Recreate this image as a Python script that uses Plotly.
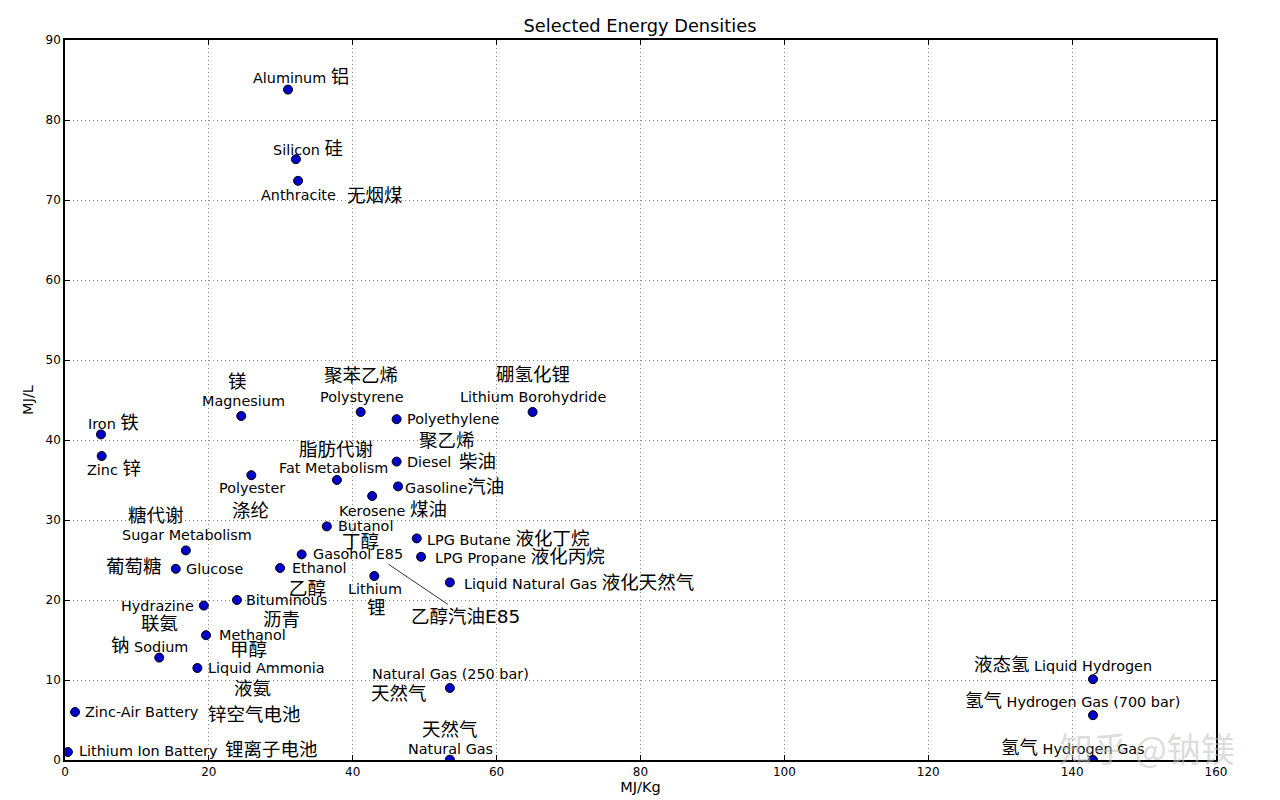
import plotly.graph_objects as go

# ---------------- data ----------------
names_en = [
    "Aluminum", "Silicon", "Anthracite", "Magnesium", "Polystyrene", "Polyethylene",
    "Lithium Borohydride", "Iron", "Zinc", "Fat Metabolism", "Diesel", "Gasoline",
    "Polyester", "Kerosene", "Butanol", "Sugar Metabolism", "Glucose", "Gasohol E85",
    "Ethanol", "Lithium", "LPG Butane", "LPG Propane", "Liquid Natural Gas", "Hydrazine",
    "Bituminous", "Methanol", "Sodium", "Liquid Ammonia", "Zinc-Air Battery",
    "Lithium Ion Battery", "Natural Gas (250 bar)", "Natural Gas", "Liquid Hydrogen",
    "Hydrogen Gas (700 bar)", "Hydrogen Gas",
]
names_zh = [
    "铝", "硅", "无烟煤", "镁", "聚苯乙烯", "聚乙烯",
    "硼氢化锂", "铁", "锌", "脂肪代谢", "柴油", "汽油",
    "涤纶", "煤油", "丁醇", "糖代谢", "葡萄糖", "乙醇汽油E85",
    "乙醇", "锂", "液化丁烷", "液化丙烷", "液化天然气", "联氨",
    "沥青", "甲醇", "钠", "液氨", "锌空气电池",
    "锂离子电池", "天然气", "天然气", "液态氢",
    "氢气", "氢气",
]
mj_kg = [
    31.0, 32.1, 32.4, 24.5, 41.1, 46.1,
    65.0, 5.0, 5.1, 37.8, 46.1, 46.3,
    25.9, 42.7, 36.4, 16.8, 15.4, 32.9,
    29.9, 43.0, 48.9, 49.5, 53.5, 19.3,
    23.9, 19.6, 13.1, 18.4, 1.4,
    0.4, 53.5, 53.5, 142.9,
    142.9, 142.9,
]
mj_l = [
    83.8, 75.1, 72.4, 43.0, 43.5, 42.6,
    43.5, 40.7, 38.0, 35.0, 37.3, 34.2,
    35.6, 33.0, 29.2, 26.2, 23.9, 25.7,
    24.0, 23.0, 27.7, 25.4, 22.2, 19.3,
    20.0, 15.6, 12.8, 11.5, 6.0,
    1.0, 9.0, 0.04, 10.1,
    5.6, 0.01,
]
x_ticks = [0, 20, 40, 60, 80, 100, 120, 140, 160]
y_ticks = [0, 10, 20, 30, 40, 50, 60, 70, 80, 90]

# ---------------- label layout (pixel offsets) ----------------
# kind: 'en', 'zh', 'en zh' (english then chinese), 'zh en', 'enzh' (no space)
# (index, kind, dx, dy_down, xanchor)
LAYOUT = [
    (0, "en zh", 12.5, -12.7, "center"),
    (1, "en zh", 12, -11, "center"),
    (2, "en", 0, 14, "center"), (2, "zh", 77, 15, "center"),
    (3, "en", 2, -15, "center"), (3, "zh", -4, -35, "center"),
    (4, "en", 1, -15, "center"), (4, "zh", 0, -37, "center"),
    (5, "en", 8, 0, "left"), (5, "zh", 50, 21, "center"),
    (6, "en", 0, -15, "center"), (6, "zh", 0, -38, "center"),
    (7, "en zh", 13, -12, "center"),
    (8, "en zh", 12, 12, "center"),
    (9, "en", -3, -12, "center"), (9, "zh", -1, -31, "center"),
    (10, "en", 8, 0, "left"), (10, "zh", 60, 0, "left"),
    (11, "enzh", 5, 0, "left"),
    (12, "en", 1, 13, "center"), (12, "zh", -1, 35, "center"),
    (13, "en zh", 21, 13, "center"),
    (14, "en", 9, 0, "left"), (14, "zh", 34, 15, "center"),
    (15, "en", 1, -15, "center"), (15, "zh", -30, -35, "center"),
    (16, "en", 8, 0, "left"), (16, "zh", -12, -2, "right"),
    (17, "en", 9, 0, "left"),
    (18, "en", 10, 0, "left"), (18, "zh", 27, 20, "center"),
    (19, "en", 1, 13, "center"), (19, "zh", 2, 31, "center"),
    (20, "en zh", 8, 0, "left"),
    (21, "en zh", 12, 0, "left"),
    (22, "en zh", 12, 0, "left"),
    (23, "en", -8, 0, "right"), (23, "zh", -44, 18, "center"),
    (24, "en", 7, 0, "left"), (24, "zh", 45, 19, "center"),
    (25, "en", 11, 0, "left"), (25, "zh", 42, 14, "center"),
    (26, "zh en", -10, -12, "center"),
    (27, "en", 9, 0, "left"), (27, "zh", 55, 20, "center"),
    (28, "en", 8, 0, "left"), (28, "zh", 131, 2, "left"),
    (29, "en", 9, -1, "left"), (29, "zh", 155, -3, "left"),
    (30, "en", 1, -14, "center"), (30, "zh", -51, 5, "center"),
    (31, "en", 1, -11, "center"), (31, "zh", 0, -30, "center"),
    (32, "zh en", -30, -15, "center"),
    (33, "zh en", -20, -15, "center"),
    (34, "zh en", -20, -12, "center"),
]

EN_SIZE = 14.4
ZH_SIZE = 18.5
FONT = "DejaVu Sans, Noto Sans CJK SC"


def zh_span(s):
    return f'<span style="font-size:{ZH_SIZE}px">{s}</span>'


def make_text(i, kind):
    en, zh = names_en[i], names_zh[i]
    if kind == "en":
        return en, EN_SIZE
    if kind == "zh":
        return zh, ZH_SIZE
    if kind == "en zh":
        return en + " " + zh_span(zh), EN_SIZE
    if kind == "enzh":
        return en + zh_span(zh), EN_SIZE
    if kind == "zh en":
        return zh_span(zh) + " " + en, EN_SIZE
    return en, EN_SIZE


fig = go.Figure()
fig.add_trace(go.Scatter(
    x=mj_kg, y=mj_l, mode="markers",
    marker=dict(size=9, color="#0000c8", line=dict(color="black", width=1)),
    hoverinfo="skip", cliponaxis=True,
))

annotations = []
for i, kind, dx, dy, xa in LAYOUT:
    text, size = make_text(i, kind)
    annotations.append(dict(
        x=mj_kg[i], y=mj_l[i], xref="x", yref="y", text=text, showarrow=False,
        xanchor=xa, yanchor="middle", xshift=dx, yshift=-dy,
        font=dict(family=FONT, size=size, color="black"),
    ))

# Gasohol E85 chinese label with leader line
gi = names_en.index("Gasohol E85")
annotations.append(dict(
    x=mj_kg[gi], y=mj_l[gi], xref="x", yref="y", text=names_zh[gi],
    showarrow=True, arrowhead=0, arrowwidth=1, arrowcolor="#333333",
    ax=77, ay=52, xshift=87, yshift=-10, standoff=0,
    font=dict(family=FONT, size=ZH_SIZE, color="black"),
))

# watermark
annotations.append(dict(
    x=0.94, y=0.017, xref="paper", yref="paper", text="知乎 @钠镁", showarrow=False,
    xanchor="center", yanchor="middle",
    font=dict(family="Noto Sans CJK SC", size=34, color="rgba(190,190,190,0.55)"),
))

axis_common = dict(
    showline=True, linecolor="black", linewidth=1.5, mirror="ticks",
    ticks="inside", ticklen=5, tickcolor="black", tickwidth=1,
    showgrid=True, gridcolor="#8a8a8a", gridwidth=1, griddash="1px,3px",
    zeroline=False, tickfont=dict(family="DejaVu Sans", size=12, color="black"),
)

# the page body adds an 8px offset; margins compensate for it
fig.update_layout(
    width=1280, height=800,
    margin=dict(l=57, r=72, t=32, b=48),
    paper_bgcolor="white", plot_bgcolor="white",
    showlegend=False,
    title=dict(text="Selected Energy Densities", x=(640 - 8) / 1280, xanchor="center",
               y=1 - 18 / 800, yanchor="middle",
               font=dict(family="DejaVu Sans", size=17.8, color="black")),
    xaxis=dict(range=[0, 160], tickvals=x_ticks, ticktext=[str(v) for v in x_ticks],
               title=dict(text="MJ/Kg", font=dict(family="DejaVu Sans", size=14.5, color="black"), standoff=2),
               **axis_common),
    yaxis=dict(range=[0, 90], tickvals=y_ticks, ticktext=[str(v) for v in y_ticks],
               title=dict(text="MJ/L", font=dict(family="DejaVu Sans", size=14.5, color="black"), standoff=8),
               **axis_common),
    annotations=annotations,
)

fig.write_html("out.html")
